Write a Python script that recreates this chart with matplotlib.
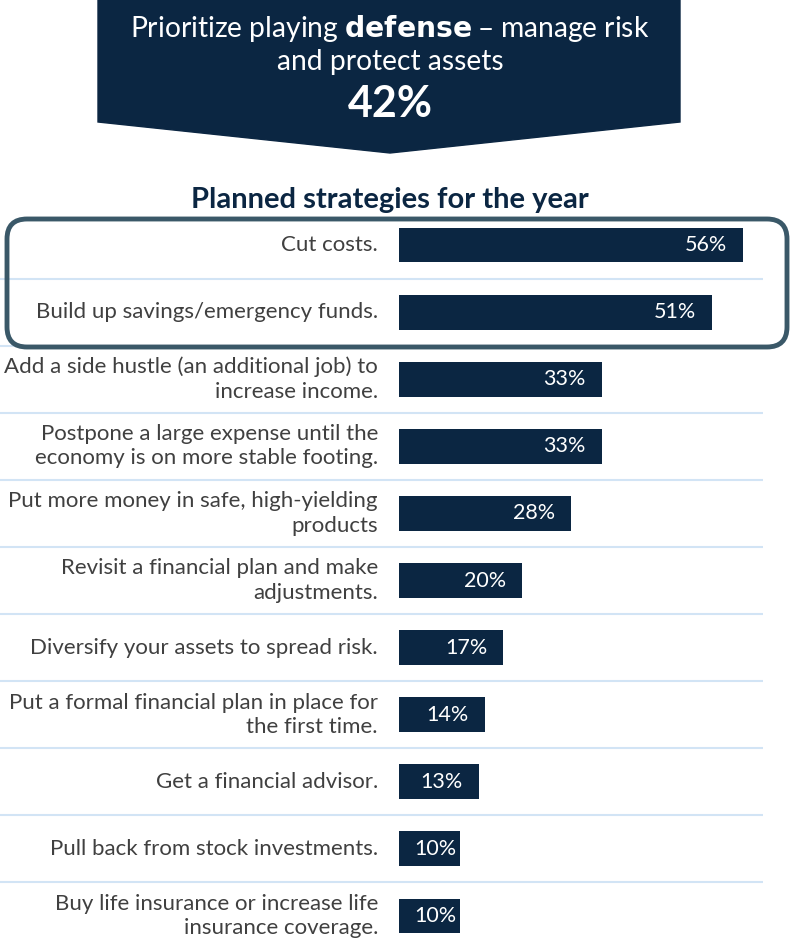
import matplotlib.pyplot as plt
from matplotlib.patches import Polygon, FancyBboxPatch

plt.rcParams['font.family'] = ['Lato', 'DejaVu Sans']

strategies = [
    "Cut costs.",
    "Build up savings/emergency funds.",
    "Add a side hustle (an additional job) to\nincrease income.",
    "Postpone a large expense until the\neconomy is on more stable footing.",
    "Put more money in safe, high-yielding\nproducts",
    "Revisit a financial plan and make\nadjustments.",
    "Diversify your assets to spread risk.",
    "Put a formal financial plan in place for\nthe first time.",
    "Get a financial advisor.",
    "Pull back from stock investments.",
    "Buy life insurance or increase life\ninsurance coverage.",
]
shares = [56, 51, 33, 33, 28, 20, 17, 14, 13, 10, 10]
headline_share = 42

NAVY = '#0b2642'
GREY = '#404040'
RULE = '#d2e4f5'
FRAME = '#3a5868'

W, H = 790, 942
fig = plt.figure(figsize=(W / 100, H / 100), dpi=100)

# bar axes spans the whole width; zero sits at x=399 px, 6.14 px per percent
px_per_pct = 6.14
x0_px = 399
row_top, row_step = 245, 67.1
ax_top_px = 205
ax = fig.add_axes([0, 0, 1, 1 - ax_top_px / H])
ax.set_xlim(-x0_px / px_per_pct, (W - x0_px) / px_per_pct)
ax.set_ylim((H - row_top) / row_step, (ax_top_px - row_top) / row_step)
ax.axis('off')

rows = range(len(shares))
ax.barh(rows, shares, height=0.52, color=NAVY)

label_x = -(x0_px - 378) / px_per_pct
rule_end = (763 - x0_px) / px_per_pct
for i, (name, v) in enumerate(zip(strategies, shares)):
    ax.text(label_x, i, name, ha='right', va='center', color=GREY,
            fontsize=16, linespacing=1.27)
    ax.text(max(v - 2.6, 9.4), i, f'{v}%', ha='right', va='center',
            color='white', fontsize=15.5)
    if i > 0:
        ax.hlines(i - 0.5, -x0_px / px_per_pct, rule_end, color=RULE, lw=1.5)

# overlay in pixel units for banner, title and highlight frame
ov = fig.add_axes([0, 0, 1, 1], zorder=3)
ov.set_xlim(0, W)
ov.set_ylim(H, 0)
ov.axis('off')

ov.add_patch(Polygon([(98, 0), (680, 0), (680, 122), (390, 153), (98, 122)],
                     closed=True, color=NAVY))
ov.text(390, 28, 'Prioritize playing $\\bf{defense}$ \u2013 manage risk',
        ha='center', va='center', color='white', fontsize=20.3)
ov.text(390, 62, 'and protect assets', ha='center', va='center',
        color='white', fontsize=20.3)
ov.text(390, 104, f'{headline_share}%', ha='center', va='center',
        color='white', fontsize=31, fontweight='bold')

ov.text(390, 200, 'Planned strategies for the year', ha='center',
        va='center', color=NAVY, fontsize=21, fontweight='bold')

ov.add_patch(FancyBboxPatch((7 + 20, 219 + 20), 780 - 40, 128 - 40,
                            boxstyle='round,pad=20', fill=False,
                            edgecolor=FRAME, lw=3.5))

fig.savefig('out.png', dpi=100)
